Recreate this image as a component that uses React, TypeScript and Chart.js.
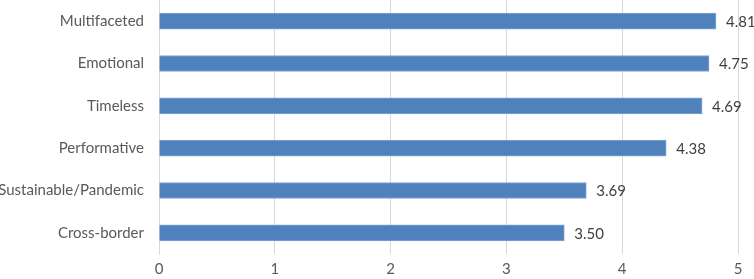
import React, { useEffect, useRef } from "react";
import { Chart, registerables } from "chart.js";

Chart.register(...registerables);

const categories = ["Multifaceted", "Emotional", "Timeless", "Performative", "Sustainable/Pandemic", "Cross-border"];
const values = [4.81, 4.75, 4.69, 4.38, 3.69, 3.5];
const xTicks = [0, 1, 2, 3, 4, 5];

const FONT = "Lato, 'Open Sans', sans-serif";

const valueLabels = {
  id: "valueLabels",
  afterDatasetsDraw(chart: any) {
    const ctx = chart.ctx;
    const meta = chart.getDatasetMeta(0);
    ctx.save();
    ctx.font = `15px ${FONT}`;
    ctx.fillStyle = "#404040";
    ctx.textAlign = "left";
    ctx.textBaseline = "middle";
    meta.data.forEach((bar: any, i: number) => {
      ctx.fillText(values[i].toFixed(2), bar.x + 10, bar.y + 1);
    });
    ctx.restore();
  },
};

export default function App() {
  const ref = useRef<HTMLCanvasElement>(null);
  useEffect(() => {
    document.body.style.margin = "0";
    const chart = new Chart(ref.current!, {
      type: "bar",
      data: {
        labels: categories,
        datasets: [
          {
            data: values,
            backgroundColor: "#4f81bd",
            borderColor: "#7fa6d6",
            borderWidth: 1,
            barThickness: 16,
          },
        ],
      },
      options: {
        indexAxis: "y",
        animation: false,
        responsive: false,
        maintainAspectRatio: false,
        layout: { padding: { left: 0, right: 16, top: 0, bottom: 0 } },
        plugins: { legend: { display: false }, tooltip: { enabled: false } },
        scales: {
          x: {
            min: 0,
            max: 5,
            afterBuildTicks: (scale: any) => {
              scale.ticks = xTicks.map((v) => ({ value: v }));
            },
            afterFit: (scale: any) => {
              scale.height = 25;
              scale.paddingLeft = 0;
              scale.paddingRight = 0;
            },
            grid: { color: "#d9d9d9", drawTicks: false },
            border: { display: false },
            ticks: { font: { family: FONT, size: 15 }, color: "#595959", padding: 6 },
          },
          y: {
            afterFit: (scale: any) => {
              scale.width = 159;
              scale.paddingTop = 0;
              scale.paddingBottom = 0;
            },
            grid: { display: false, drawTicks: false },
            border: { display: true, color: "#d9d9d9" },
            ticks: { font: { family: FONT, size: 15 }, color: "#595959", padding: 15 },
          },
        },
      },
      plugins: [valueLabels],
    });
    return () => chart.destroy();
  }, []);
  return (
    <div style={{ position: "absolute", left: 0, top: 0, width: 754, height: 279 }}>
      <canvas ref={ref} width={754} height={279} />
    </div>
  );
}
